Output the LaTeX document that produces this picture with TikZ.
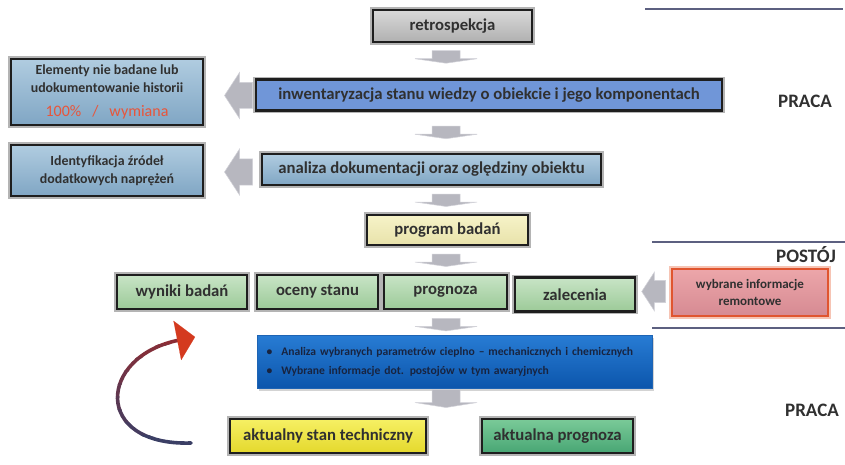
\documentclass[tikz,border=0pt]{standalone}
\usepackage{fontspec}
\setmainfont{Carlito}
\usetikzlibrary{calc,arrows.meta,shadows}

\definecolor{txt}{HTML}{303030}
\definecolor{boxedge}{HTML}{1E1E1E}
\definecolor{frame}{HTML}{B4B4B4}
\definecolor{arrowgray}{HTML}{B7B7BF}
\definecolor{arrowedge}{HTML}{D2D2D8}
\definecolor{rulecol}{HTML}{5C6080}
\definecolor{loopred}{HTML}{962A2E}
\definecolor{loopnavy}{HTML}{3A3F66}
\definecolor{loophead}{HTML}{D43A1F}
\definecolor{redtxt}{HTML}{E8553A}

\begin{document}
\begin{tikzpicture}[x=1pt,y=-1pt,
  box/.style={draw=boxedge, line width=2.4pt,
    preaction={draw=frame, fill=none, line width=5.6pt},
    inner sep=0pt, text=txt, align=center,
    font=\bfseries\fontsize{16.7}{19}\selectfont},
  silver/.style={top color=gray!30, middle color=gray!16, bottom color=gray!62},
  steel/.style={fill={rgb,255:red,112;green,150;blue,216}},
  paleblue/.style={top color={rgb,255:red,176;green,204;blue,224},
    middle color={rgb,255:red,218;green,233;blue,243},
    bottom color={rgb,255:red,128;green,166;blue,196}},
  paleyellow/.style={top color={rgb,255:red,246;green,243;blue,200},
    bottom color={rgb,255:red,232;green,226;blue,170}},
  palegreen/.style={top color={rgb,255:red,200;green,228;blue,198},
    middle color={rgb,255:red,224;green,240;blue,222},
    bottom color={rgb,255:red,156;green,202;blue,152}},
  smalltxt/.style={font=\bfseries\fontsize{13.9}{18}\selectfont},
  redbox/.style={draw={rgb,255:red,224;green,85;blue,47}, line width=2.5pt,
    preaction={draw={rgb,255:red,246;green,196;blue,180}, fill=none, line width=5.6pt},
    top color={rgb,255:red,236;green,166;blue,170},
    bottom color={rgb,255:red,214;green,138;blue,146},
    inner sep=0pt, text=txt, align=center,
    font=\bfseries\fontsize{13}{17}\selectfont},
  bluebox/.style={top color={rgb,255:red,40;green,124;blue,212},
    bottom color={rgb,255:red,12;green,86;blue,172},
    draw={rgb,255:red,30;green,100;blue,180}, line width=0.6pt,
    drop shadow={shadow xshift=2pt, shadow yshift=-3pt, opacity=0.35},
    inner sep=0pt, text={rgb,255:red,24;green,36;blue,64}, align=left,
    font=\bfseries\fontsize{11.6}{19}\selectfont},
  yellowbox/.style={top color={rgb,255:red,246;green,240;blue,100},
    bottom color={rgb,255:red,228;green,216;blue,44}},
  greenbox/.style={top color={rgb,255:red,122;green,202;blue,152},
    bottom color={rgb,255:red,72;green,166;blue,116}},
  sidelabel/.style={text=txt, font=\bfseries\fontsize{19}{22}\selectfont},
  rule/.style={draw=rulecol, line width=1.1pt},
  downarr/.pic={
    \path[fill=arrowgray, draw=arrowedge, line width=0.5pt]
      (-14,-6) -- (14,-6) -- (14,2) -- (31,2) -- (0,6.5) -- (-31,2) -- (-14,2) -- cycle;
  },
  longdownarr/.pic={
    \path[fill=arrowgray, draw=arrowedge, line width=0.5pt]
      (-14,-9) -- (14,-9) -- (14,4) -- (31,4) -- (0,9) -- (-31,4) -- (-14,4) -- cycle;
  },
  leftarr/.pic={
    \path[fill=arrowgray, draw=arrowedge, line width=0.5pt]
      (13,-13) -- (0,-13) -- (0,-23) -- (-15,0) -- (0,23) -- (0,13) -- (13,13) -- cycle;
  },
  loopline/.style={line width=3.6pt, line cap=round},
  loophd/.style={draw=loophead, line width=0.1pt,
    -{Triangle[length=18pt, width=40pt, color=loophead, fill=loophead]}}
]
\useasboundingbox (0,0) rectangle (845,465);

% right-hand phase separators and labels
\draw[rule] (645,9) -- (843,9);
\draw[rule] (652,242) -- (845,242);
\draw[rule] (652,328) -- (845,328);
\node[sidelabel] (praca1) at (805,101) {PRACA};
\node[sidelabel] (postoj) at (806,255) {POSTÓJ};
\node[sidelabel] (praca2) at (812,410) {PRACA};

% main column
\node[box, silver, minimum width=159, minimum height=32] (retro) at (452.5,26) {retrospekcja};
\node[box, steel, minimum width=466, minimum height=31] (inw) at (489,95)
  {inwentaryzacja stanu wiedzy o obiekcie i jego komponentach};
\node[box, paleblue, minimum width=339, minimum height=31] (anal) at (431.5,169.5)
  {analiza dokumentacji oraz oględziny obiektu};
\node[box, paleyellow, minimum width=161, minimum height=30] (prog) at (447.5,230) {program badań};

% left-hand notes
\node[box, paleblue, smalltxt, minimum width=192, minimum height=66] (elem) at (107,92)
  {Elementy nie badane lub\\udokumentowanie historii\\[6pt]
   {\fontsize{16}{17}\selectfont\mdseries\color{redtxt}100\%\hspace{11pt}/\hspace{11pt}wymiana}};
\node[box, paleblue, smalltxt, minimum width=192, minimum height=51] (ident) at (107,170.5)
  {Identyfikacja źródeł\\dodatkowych naprężeń};

% results row
\node[box, palegreen, minimum width=130, minimum height=34] (wyn) at (182,292) {wyniki badań};
\node[box, palegreen, minimum width=121, minimum height=34] (oce) at (317.5,292) {oceny stanu};
\node[box, palegreen, minimum width=123, minimum height=34] (prg) at (445.5,292) {prognoza};
\node[box, palegreen, minimum width=120, minimum height=34] (zal) at (575,294.5) {zalecenia};
\node[redbox, minimum width=156, minimum height=47] (rem) at (750,292.5)
  {wybrane informacje\\remontowe};

% analysis box
\node[bluebox, minimum width=395, minimum height=53, text width=376] (blue) at (454.5,361.5)
  {\textbullet\hspace{9pt}Analiza wybranych parametrów cieplno – mechanicznych i chemicznych\\
   \textbullet\hspace{9pt}Wybrane informacje dot. postojów w tym awaryjnych};

% outcomes
\node[box, yellowbox, minimum width=196, minimum height=34] (stan) at (328,436) {aktualny stan techniczny};
\node[box, greenbox, minimum width=151, minimum height=34] (aprog) at (557.5,436) {aktualna prognoza};

% flow arrows down the main column
\coordinate (axis) at (446,0);
\pic at (axis |- {$(retro.south)!0.5!(inw.north) + (0,-4)$}) {downarr};
\pic at (axis |- {$(inw.south)!0.5!(anal.north)$}) {downarr};
\pic at (axis |- {$(anal.south)!0.5!(prog.north)$}) {downarr};
\pic at (axis |- {$(prog.south)!0.5!(prg.north)$}) {downarr};
\pic at (axis |- {$(prg.south)!0.5!(blue.north) + (0,2)$}) {downarr};
\pic at (axis |- {$(blue.south)!0.5!(stan.north) + (0,-4.5)$}) {longdownarr};

% side arrows pointing left
\pic at ($(elem.east)!0.5!(inw.west) + (10,2)$) {leftarr};
\pic at ($(ident.east)!0.5!(anal.west) + (7,2)$) {leftarr};
\pic at ($(zal.east)!0.5!(rem.west) + (1,-2)$) [scale=0.85] {leftarr};

% feedback loop, body fading from navy at the foot to dark red near the head
\coordinate (loopS) at (191,443);
\coordinate (loopE) at (195,337);
\coordinate (loopC1) at (92,446);
\coordinate (loopC2) at (98,356);
\foreach \i in {0,...,9} {
  \pgfmathsetmacro{\mixval}{100-\i*11}
  \begin{scope}
    \clip (60,{318+\i*13}) rectangle (260,{332+\i*13});
    \draw[loopline, draw=loopred!\mixval!loopnavy, shorten >=16pt]
      (loopS) .. controls (loopC1) and (loopC2) .. (loopE);
  \end{scope}
}
\draw[loophd] ($(loopE)!18pt!(loopC2)$) -- (loopE);
\end{tikzpicture}
\end{document}
